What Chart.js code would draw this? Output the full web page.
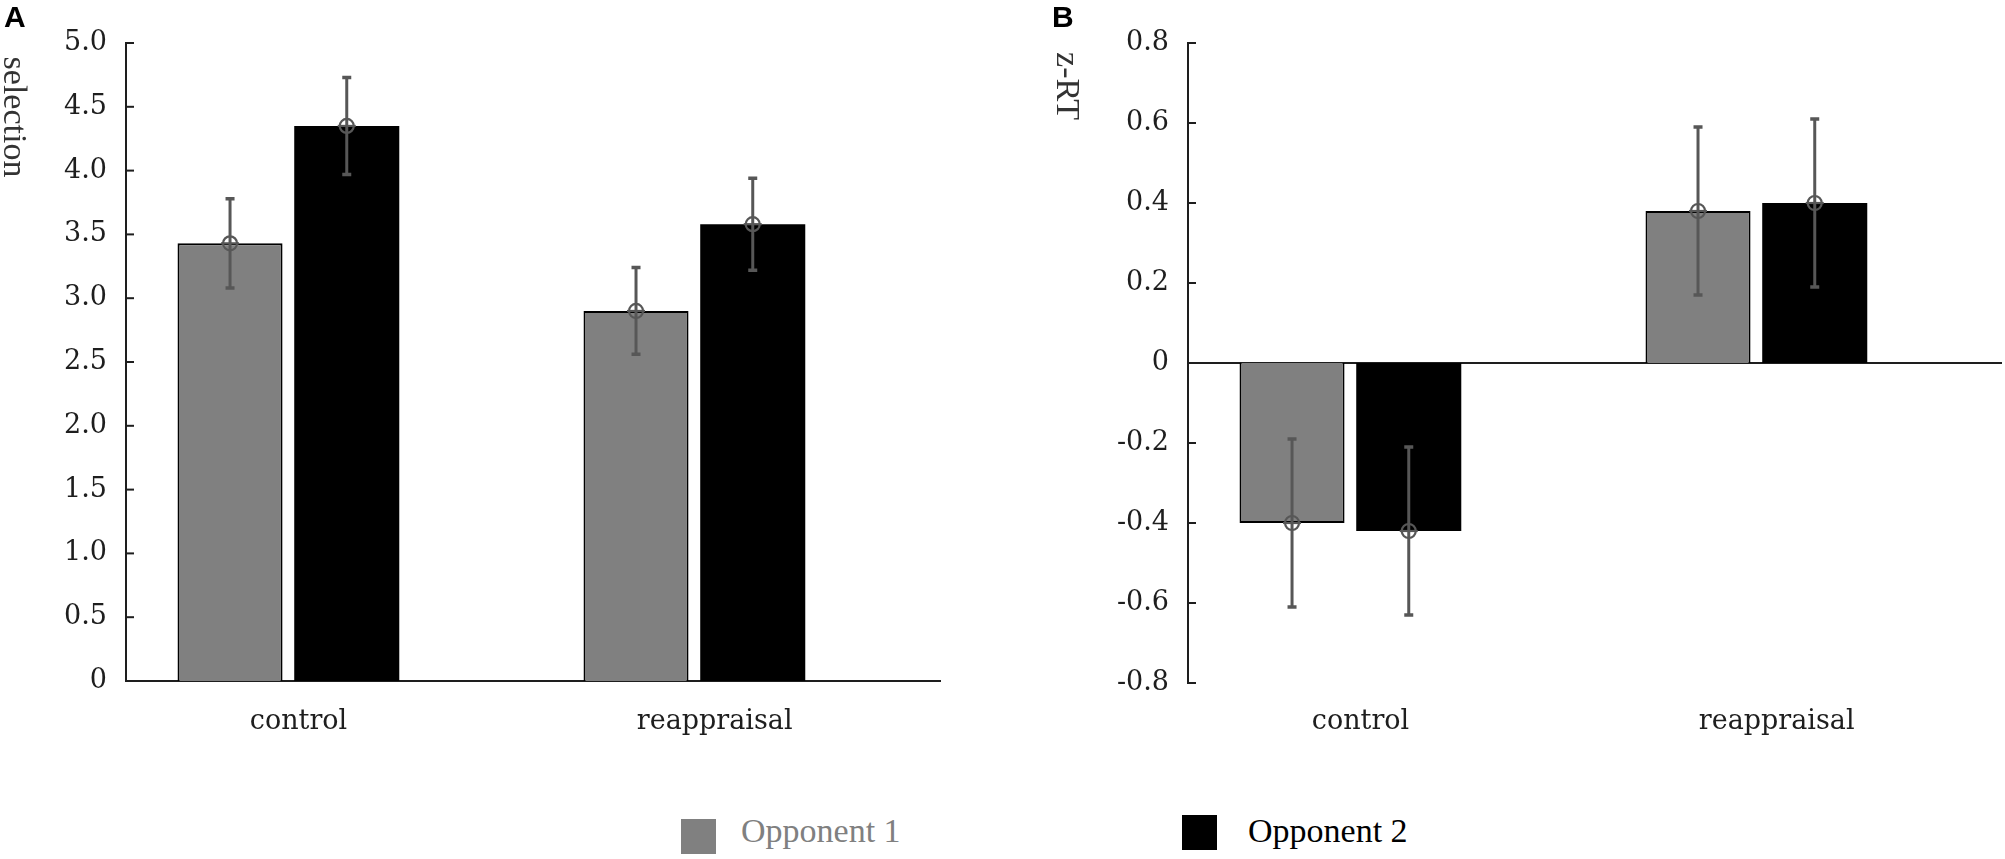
<!DOCTYPE html>
<html>
<head>
<meta charset="utf-8">
<script src="https://cdn.jsdelivr.net/npm/chart.js@4.4.1/dist/chart.umd.min.js"></script>
<style>
	body { margin: 0; background: #fff; width: 2005px; height: 859px; overflow: hidden; position: relative; }
	canvas { position: absolute; top: 0; }
	#chart-a { left: 0; }
	#chart-b { left: 1000px; }
	.key { position: absolute; width: 35px; height: 35px; }
	.key-text { position: absolute; font-family: "Liberation Serif", serif; font-size: 34px; line-height: 34px; white-space: nowrap; }
</style>
</head>
<body>
<canvas id="chart-a" width="1000" height="790"></canvas>
<canvas id="chart-b" width="1005" height="790"></canvas>
<div class="key" style="left:681px;top:819px;background:#808080"></div>
<div class="key-text" style="left:741px;top:814px;color:#808080">Opponent 1</div>
<div class="key" style="left:1182px;top:815px;background:#000"></div>
<div class="key-text" style="left:1248px;top:814px;color:#000">Opponent 2</div>
<script>
const categories = ["control", "reappraisal"]
const seriesNames = ["Opponent 1", "Opponent 2"]

//panel A: selection
const selectionOpp1 = [3.43, 2.90]
const selectionOpp2 = [4.35, 3.58]
const selectionErr1 = [0.35, 0.34]
const selectionErr2 = [0.38, 0.36]
const selectionTicks = [0, 0.5, 1.0, 1.5, 2.0, 2.5, 3.0, 3.5, 4.0, 4.5, 5.0]

//panel B: z-RT
const rtOpp1 = [-0.40, 0.38]
const rtOpp2 = [-0.42, 0.40]
const rtErr1 = [0.21, 0.21]
const rtErr2 = [0.21, 0.21]
const rtTicks = [-0.8, -0.6, -0.4, -0.2, 0, 0.2, 0.4, 0.6, 0.8]

//labels sit a little right of the group centres in the original
const labelNudge = [0.025, 0.05]

const tickFont = {family: "DejaVu Serif", size: 27}
const inkColor = "#1e1e1e"

function fmtTick(v){
	return Math.abs(v) < 1e-9 ? "0" : v.toFixed(1)
}

const decorPlugin = {
	id: "decor",
	beforeDatasetsDraw(chart, args, opts){
		if(!opts.zeroLine) return
		const ctx = chart.ctx
		const area = chart.chartArea
		const py = chart.scales.y.getPixelForValue(0)
		ctx.save()
		ctx.strokeStyle = inkColor
		ctx.lineWidth = 2
		ctx.beginPath()
		ctx.moveTo(area.left, py)
		ctx.lineTo(area.right, py)
		ctx.stroke()
		ctx.restore()
	},
	afterDraw(chart, args, opts){
		const ctx = chart.ctx
		const area = chart.chartArea
		const y = chart.scales.y
		ctx.save()
		//tick marks point into the plot
		ctx.strokeStyle = inkColor
		ctx.lineWidth = 2
		y.ticks.forEach(t => {
			const py = y.getPixelForValue(t.value)
			ctx.beginPath()
			ctx.moveTo(area.left, py)
			ctx.lineTo(area.left + 8, py)
			ctx.stroke()
		})
		//axis title, turned clockwise
		ctx.fillStyle = "#333"
		ctx.font = '34px "Liberation Serif"'
		ctx.textAlign = "center"
		ctx.textBaseline = "middle"
		ctx.translate(opts.titleX, opts.titleY)
		ctx.rotate(Math.PI / 2)
		ctx.fillText(opts.title, 0, 0)
		ctx.setTransform(1, 0, 0, 1, 0, 0)
		//panel letter
		ctx.fillStyle = "#000"
		ctx.font = 'bold 30px "Liberation Sans"'
		ctx.textAlign = "left"
		ctx.textBaseline = "alphabetic"
		ctx.fillText(opts.letter, opts.letterX, 27)
		ctx.restore()
	}
}

const errorBarPlugin = {
	id: "errorBars",
	afterDatasetsDraw(chart){
		const ctx = chart.ctx
		const y = chart.scales.y
		ctx.save()
		ctx.strokeStyle = "#575757"
		chart.data.datasets.forEach((ds, di) => {
			const meta = chart.getDatasetMeta(di)
			meta.data.forEach((bar, i) => {
				const v = ds.data[i].y
				const e = ds.errors[i]
				const top = y.getPixelForValue(v + e)
				const bot = y.getPixelForValue(v - e)
				const mid = y.getPixelForValue(v)
				ctx.lineWidth = 3
				ctx.beginPath()
				ctx.moveTo(bar.x, top)
				ctx.lineTo(bar.x, bot)
				ctx.stroke()
				ctx.lineWidth = 3.5
				ctx.beginPath()
				ctx.moveTo(bar.x - 4.5, top)
				ctx.lineTo(bar.x + 4.5, top)
				ctx.moveTo(bar.x - 4.5, bot)
				ctx.lineTo(bar.x + 4.5, bot)
				ctx.stroke()
				//mean marker
				ctx.lineWidth = 2.2
				ctx.beginPath()
				ctx.arc(bar.x, mid, 7, 0, Math.PI * 2)
				ctx.stroke()
				ctx.beginPath()
				ctx.moveTo(bar.x - 9, mid)
				ctx.lineTo(bar.x + 9, mid)
				ctx.stroke()
			})
		})
		ctx.restore()
	}
}

function toPoints(values){
	return values.map((v, i) => ({x: i + 1, y: v}))
}

function makeChart(id, s){
	return new Chart(id, {
		type: "bar",
		data: {
			datasets: [{
				label: seriesNames[0],
				data: toPoints(s.opp1),
				errors: s.err1,
				backgroundColor: "#808080",
				borderColor: "#000",
				borderWidth: 2
			}, {
				label: seriesNames[1],
				data: toPoints(s.opp2),
				errors: s.err2,
				backgroundColor: "#000",
				borderColor: "#000",
				borderWidth: 0
			}]
		},
		options: {
			responsive: false,
			animation: false,
			categoryPercentage: 0.575,
			barPercentage: 0.9,
			layout: {padding: {left: 0, top: 43, right: s.padRight, bottom: 0}},
			plugins: {
				legend: {display: false},
				tooltip: {enabled: false},
				decor: {title: s.title, titleX: s.titleX, titleY: s.titleY, letter: s.letter, letterX: s.letterX, zeroLine: s.zeroLine}
			},
			scales: {
				x: {
					type: "linear",
					offset: false,
					bounds: "data",
					min: 0.6,
					max: 2.605,
					afterBuildTicks: scale => { scale.ticks = categories.map((c, i) => ({value: i + 1 + labelNudge[i]})) },
					afterFit: scale => { scale.height = s.xHeight },
					grid: {display: false, drawTicks: false, offset: false},
					border: {display: !s.zeroLine, color: inkColor, width: 2},
					ticks: {
						callback: (v, i) => categories[i],
						font: tickFont,
						color: inkColor,
						padding: s.xPad,
						autoSkip: false,
						maxRotation: 0
					}
				},
				y: {
					min: s.ticks[0],
					max: s.ticks[s.ticks.length - 1],
					afterBuildTicks: scale => { scale.ticks = s.ticks.map(v => ({value: v})) },
					afterFit: scale => { scale.width = s.yWidth },
					grid: {display: false, drawTicks: false},
					border: {display: true, color: inkColor, width: 2},
					ticks: {
						callback: v => fmtTick(v),
						font: tickFont,
						color: inkColor,
						padding: 19
					}
				}
			}
		},
		plugins: [decorPlugin, errorBarPlugin]
	})
}

const chartA = makeChart("chart-a", {
	opp1: selectionOpp1, opp2: selectionOpp2, err1: selectionErr1, err2: selectionErr2,
	ticks: selectionTicks, title: "selection", titleX: 13, titleY: 117, letter: "A", letterX: 4,
	yWidth: 126, xHeight: 109, xPad: 25, padRight: 60, zeroLine: false
})

const chartB = makeChart("chart-b", {
	opp1: rtOpp1, opp2: rtOpp2, err1: rtErr1, err2: rtErr2,
	ticks: rtTicks, title: "z-RT", titleX: 66, titleY: 86, letter: "B", letterX: 52,
	yWidth: 188, xHeight: 107, xPad: 23, padRight: 3, zeroLine: true
})
</script>
</body>
</html>
